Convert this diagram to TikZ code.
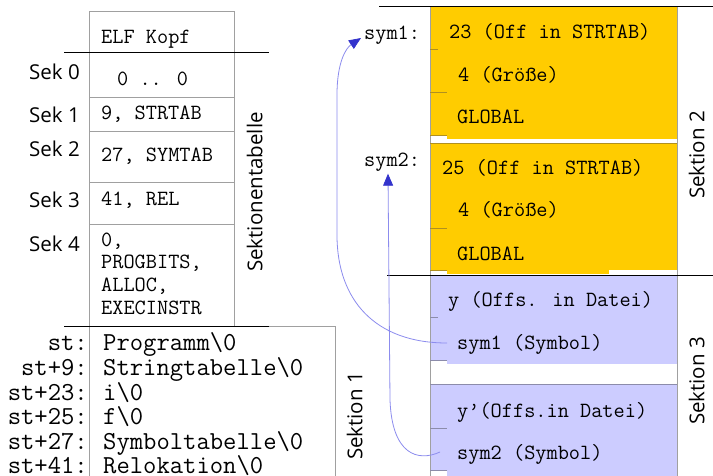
\documentclass[tikz,border=0pt]{standalone}
\usepackage{fontspec}
\usetikzlibrary{arrows.meta,calc}
\newfontfamily\sansf{Open Sans}
\definecolor{symyellow}{HTML}{FFCC00}
\definecolor{rellilac}{HTML}{CCCCFF}
\definecolor{gridgray}{HTML}{A0A0A0}
\definecolor{ytick}{HTML}{B09020}
\definecolor{ptick}{HTML}{8C8CAA}
\definecolor{linkline}{HTML}{8C8CEE}
\definecolor{linktip}{HTML}{3333CC}
\tikzset{
  cell/.style={font=\ttfamily\fontsize{21.7}{24}\selectfont, inner sep=0pt, text height=13pt, text depth=0pt, anchor=west},
  strtxt/.style={font=\ttfamily\fontsize{25.9}{28}\selectfont, inner sep=0pt, text height=15.5pt, text depth=0pt, anchor=west},
  strlbl/.style={strtxt, anchor=east},
  seklbl/.style={font=\sansf\fontsize{20.5}{24}\selectfont, inner sep=0pt, text height=14.6pt, text depth=0pt, anchor=east},
  sectitle/.style={font=\sansf\fontsize{20.5}{24}\selectfont, inner sep=0pt, text height=14.6pt, text depth=0pt, rotate=90, anchor=center},
  grid/.style={draw=gridgray, line width=0.8pt},
  rule/.style={draw=black, line width=1pt},
  tickY/.style={draw=ytick, line width=0.8pt},
  tickP/.style={draw=ptick, line width=0.8pt},
  link/.style={draw=linkline, line width=0.8pt, -{Triangle[length=12pt,width=10pt,color=linktip]}}
}
\begin{document}
\begin{tikzpicture}[x=1pt,y=-1pt]
\useasboundingbox (0,0) rectangle (713,476);
\fill[white] (0,0) rectangle (713,476);

% ---- section header table ----
\draw[grid] (89,11) rectangle (234,326);
\foreach \yy in {97,131,182,224} \draw[grid] (89,\yy) -- (234,\yy);
\draw[rule] (64,53) -- (269,53);
% string table box
\draw[grid] (89,476) -- (89,326) -- (335,326) -- (335,476);
\draw[rule] (64,326) -- (269,326);

\node[cell] (kopf) at (101,37) {ELF Kopf};
\node[cell] (c0) at (117,79) {0 .. 0};
\node[cell] (c1) at (101,113) {9, STRTAB};
\node[cell] (c2) at (101,155) {27, SYMTAB};
\node[cell] (c3) at (101,199) {41, REL};
\node[cell] (c4a) at (101,240) {0,};
\node[cell] (c4b) at (101,262) {PROGBITS,};
\node[cell] (c4c) at (101,285) {ALLOC,};
\node[cell] (c4d) at (101,308) {EXECINSTR};

\node[seklbl] (s0) at (80,72.5) {Sek 0};
\node[seklbl] (s1) at (80,115.5) {Sek 1};
\node[seklbl] (s2) at (80,149.5) {Sek 2};
\node[seklbl] (s3) at (80,200) {Sek 3};
\node[seklbl] (s4) at (80,244.5) {Sek 4};

\node[sectitle] (sektab) at (255,192) {Sektionentabelle};

% ---- string table ----
\foreach \lbl/\txt/\yy [count=\i] in {
  st:/Programm\textbackslash 0/343,
  st+9:/Stringtabelle\textbackslash 0/368,
  st+23:/i\textbackslash 0/392.5,
  st+25:/f\textbackslash 0/417,
  st+27:/Symboltabelle\textbackslash 0/441.5,
  st+41:/Relokation\textbackslash 0/466}{
  \node[strlbl] (stl\i) at (88,\yy) {\lbl};
  \node[strtxt] (stt\i) at (103,\yy) {\txt};
}
\node[sectitle] (sek1) at (355,416) {Sektion 1};

% ---- symbol table (yellow) ----
\fill[symyellow] (430,7) rectangle (677,135);
\fill[symyellow] (447,135) rectangle (677,139);
\fill[symyellow] (430,143) rectangle (677,270);
\fill[symyellow] (447,270) rectangle (609,274);
% ---- relocation table (lilac) ----
\fill[rellilac] (430,276) rectangle (677,360);
\fill[rellilac] (447,360) rectangle (677,364);
\fill[rellilac] (430,385) rectangle (677,470);
\fill[rellilac] (447,470) rectangle (677,476);

\draw[grid] (430,7) -- (430,476);
\draw[grid] (677,7) -- (677,476);
\draw[tickY] (430,143) -- (677,143);
\draw[tickP] (430,384) -- (677,384);
\draw[tickY] (430,49) -- (438,49);
\draw[tickY] (430,92) -- (447,92);
\draw[tickY] (430,135) -- (447,135);
\draw[tickY] (430,228) -- (447,228);
\draw[tickY] (430,270) -- (447,270);
\draw[tickP] (430,317) -- (438,317);
\draw[tickP] (430,360) -- (447,360);
\draw[tickP] (430,428) -- (447,428);
\draw[tickP] (430,470) -- (447,470);

\draw[rule] (379,7) -- (713,7);
\draw[rule] (387,275) -- (713,275);

\node[cell] (sym1lbl) at (364,33) {sym1:};
\node[cell] (sym2lbl) at (364,160) {sym2:};

\node[cell] (off1) at (449,32) {23 (Off in STRTAB)};
\node[cell] (size1) at (458,75) {4 (Größe)};
\node[cell] (bind1) at (457,117) {GLOBAL};
\node[cell] (off2) at (442,168) {25 (Off in STRTAB)};
\node[cell] (size2) at (458,210) {4 (Größe)};
\node[cell] (bind2) at (457,254) {GLOBAL};

\node[cell] (r1off) at (448,300) {y (Offs. in Datei)};
\node[cell] (r1sym) at (457,343) {sym1 (Symbol)};
\node[cell] (r2off) at (457,411) {y’(Offs.in Datei)};
\node[cell] (r2sym) at (457,453) {sym2 (Symbol)};

\node[sectitle] (sek2) at (697,155) {Sektion 2};
\node[sectitle] (sek3) at (697,381) {Sektion 3};

% ---- relocation links back to the symbols ----
\draw[link] ($(r1sym.west)+(-10,0)$) .. controls (375,343) and (337,300) .. (337,235)
  -- (337,95) .. controls (337,62) and (346,48) .. ($(sym1lbl.west)+(-3,5)$);
\draw[link] ($(r2sym.west)+(-17,-1)$) .. controls (418,462) and (392,455) .. (390,400)
  -- ($(sym2lbl.south west)+(24,7)$);
\end{tikzpicture}
\end{document}
